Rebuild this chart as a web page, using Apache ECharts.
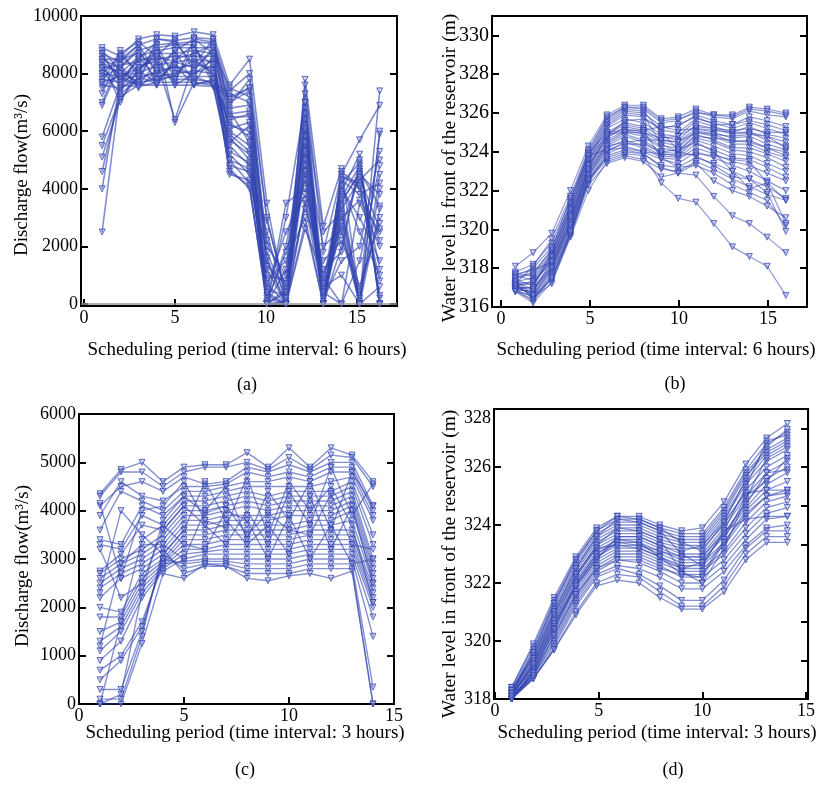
<!DOCTYPE html>
<html>
<head>
<meta charset="utf-8">
<script src="https://cdn.jsdelivr.net/npm/echarts@6/dist/echarts.min.js"></script>
<style>
  html, body { margin: 0; padding: 0; background: #fff; }
  #chart { width: 818px; height: 785px; }
</style>
</head>
<body>
<div id="chart"></div>
<script>
// ---------- (a) discharge flow, 6-hour periods ----------
const periodsA = [1, 2, 3, 4, 5, 6.05, 7.1, 8, 9.1, 10.05, 11.1, 12.15, 13.15, 14.15, 15.15, 16.25];
const flowA = [
  [8900, 8600, 9200, 9350, 9300, 9450, 9350, 7600, 8500, 3500, 100, 7800, 2700, 4700, 200, 7400],
  [8700, 8400, 9000, 9200, 9150, 9250, 9200, 7400, 8000, 2900, 500, 7600, 1800, 4500, 5700, 6900],
  [8500, 8200, 8800, 9000, 9050, 9100, 9050, 7200, 7500, 2000, 1000, 7000, 200, 4200, 4900, 0],
  [8400, 8000, 8600, 8800, 8900, 8900, 8900, 7000, 7400, 1500, 0, 6500, 0, 3800, 0, 5900],
  [8200, 8300, 8400, 8700, 8700, 8800, 8700, 6800, 6900, 500, 300, 6000, 800, 3500, 4600, 3400],
  [8000, 7900, 8200, 8500, 8600, 8600, 8600, 6500, 6500, 0, 2000, 5500, 0, 3000, 3600, 2500],
  [7800, 7700, 8000, 8300, 8400, 8500, 8400, 6200, 6000, 300, 0, 5000, 500, 2500, 0, 4500],
  [7600, 7500, 7800, 8100, 8200, 8300, 8200, 6000, 5500, 1000, 800, 4500, 0, 4000, 3000, 1500],
  [8600, 7800, 7600, 7900, 8000, 8100, 8000, 5800, 5000, 0, 3500, 4000, 1200, 1800, 5000, 0],
  [8800, 8100, 7700, 7800, 7900, 7900, 7900, 5500, 4800, 2500, 0, 3500, 200, 1500, 2000, 5300],
  [5800, 7600, 7550, 7700, 7700, 7700, 7600, 5200, 4500, 800, 1500, 3000, 0, 4500, 4000, 800],
  [5500, 7200, 7600, 7600, 7600, 7600, 7550, 5000, 4200, 0, 500, 6800, 2500, 3200, 500, 3000],
  [5100, 7100, 7900, 8000, 8300, 7600, 7800, 4700, 4000, 200, 0, 5800, 300, 3700, 4800, 200],
  [4600, 7400, 8100, 8700, 8100, 8000, 8300, 4500, 4300, 1800, 200, 4800, 0, 2800, 100, 4000],
  [4000, 7800, 8500, 9100, 6300, 7700, 8600, 4800, 4600, 600, 2500, 3800, 900, 0, 3500, 2000],
  [2500, 7500, 8300, 8400, 6400, 8400, 8100, 5600, 6200, 0, 100, 6200, 0, 4100, 2500, 1000],
  [7000, 8500, 8700, 8200, 8800, 9200, 9100, 6900, 7800, 1200, 0, 2800, 0, 3300, 4300, 5000],
  [7300, 8700, 9100, 8600, 8400, 8200, 8800, 7500, 7200, 0, 1200, 7300, 600, 1000, 0, 6000],
  [8300, 8000, 8000, 9000, 7800, 7800, 7700, 6300, 5800, 400, 0, 6600, 0, 4400, 4200, 300],
  [8100, 7300, 7800, 8900, 9000, 9000, 7600, 6600, 6700, 2200, 600, 3300, 1500, 2200, 600, 2800],
  [7900, 8200, 8900, 7600, 8500, 8700, 9000, 5900, 5300, 0, 0, 5200, 0, 3900, 5200, 0],
  [7700, 7900, 7600, 8400, 7600, 8000, 8500, 5300, 4900, 100, 1800, 4300, 400, 0, 1500, 4800],
  [8500, 8500, 9000, 8000, 8800, 7650, 7700, 7300, 7000, 1600, 0, 6400, 0, 3600, 4500, 3800],
  [8000, 8600, 8100, 7700, 8000, 8500, 8000, 6100, 6300, 0, 400, 5600, 2000, 2600, 0, 0],
  [8700, 7700, 8500, 8500, 7700, 9200, 8700, 5000, 4700, 700, 0, 4600, 0, 4600, 4100, 2200],
  [7500, 8000, 7700, 9200, 9100, 8300, 9200, 6700, 5600, 0, 3000, 7000, 100, 3100, 0, 3300],
  [8200, 7600, 8600, 7800, 8300, 7900, 7650, 7100, 7500, 3000, 200, 5300, 0, 2000, 4700, 1200],
  [6900, 8300, 7500, 8100, 7800, 8800, 8300, 4600, 4100, 0, 0, 3600, 700, 4300, 3800, 4200],
  [8400, 7000, 8200, 8600, 9200, 8100, 8900, 6400, 6600, 1300, 700, 6100, 0, 3400, 0, 600],
  [7700, 8800, 7900, 7650, 8500, 9000, 7800, 5700, 5200, 0, 0, 2600, 1000, 2700, 4400, 2600]
];

// ---------- (b) water level, 6-hour periods ----------
const periodsB = [0.8, 1.8, 2.85, 3.9, 4.9, 5.95, 6.95, 8, 9, 9.95, 10.95, 11.95, 13, 13.95, 14.95, 16];
const levelB = [
  [318.1, 318.8, 319.8, 322.0, 324.3, 325.9, 326.4, 326.4, 325.7, 325.8, 326.2, 325.9, 325.9, 326.3, 326.2, 326.0],
  [317.8, 318.2, 319.3, 321.5, 324.0, 325.7, 326.3, 326.2, 325.5, 325.6, 326.1, 325.8, 325.7, 326.1, 325.9, 325.8],
  [317.6, 318.0, 319.1, 321.2, 323.8, 325.5, 326.1, 326.0, 325.3, 325.3, 325.9, 325.6, 325.4, 325.8, 325.6, 325.3],
  [317.5, 317.8, 318.9, 321.0, 323.6, 325.3, 325.9, 325.8, 325.1, 325.0, 325.7, 325.5, 325.2, 325.5, 325.2, 324.9],
  [317.3, 317.5, 318.7, 320.9, 323.5, 325.2, 325.7, 325.5, 324.9, 324.8, 325.6, 325.3, 325.0, 325.3, 324.9, 324.7],
  [317.2, 317.3, 318.5, 320.8, 323.4, 325.0, 325.5, 325.3, 324.8, 324.6, 325.4, 325.2, 324.9, 325.0, 324.6, 324.3],
  [317.1, 317.2, 318.4, 320.6, 323.3, 324.9, 325.4, 325.2, 324.6, 324.5, 325.2, 325.0, 324.7, 324.8, 324.4, 324.1],
  [317.0, 317.0, 318.2, 320.5, 323.2, 324.8, 325.2, 325.0, 324.5, 324.3, 325.1, 324.9, 324.5, 324.6, 324.2, 324.0],
  [317.7, 317.9, 318.3, 320.4, 323.1, 324.6, 325.1, 324.9, 324.3, 324.2, 325.0, 324.8, 324.4, 324.4, 324.0, 323.7],
  [317.0, 316.9, 318.1, 320.3, 323.0, 324.5, 325.0, 324.8, 324.2, 324.0, 324.9, 324.6, 324.2, 324.2, 323.9, 323.5],
  [316.9, 316.8, 318.0, 320.2, 322.9, 324.4, 324.9, 324.6, 324.0, 323.9, 324.7, 324.5, 324.1, 324.0, 323.7, 323.2],
  [317.0, 316.7, 317.9, 320.1, 322.8, 324.3, 324.8, 324.5, 323.9, 323.8, 324.6, 324.3, 323.9, 323.8, 323.4, 323.0],
  [317.1, 316.6, 317.8, 320.0, 322.7, 324.2, 324.6, 324.3, 323.8, 323.7, 324.4, 324.1, 323.7, 323.6, 323.2, 322.7],
  [316.9, 316.5, 317.7, 319.9, 322.6, 324.0, 324.5, 324.2, 323.7, 323.6, 324.2, 323.9, 323.5, 323.3, 322.9, 322.5],
  [316.8, 316.4, 317.6, 319.8, 322.5, 323.9, 324.3, 324.0, 323.6, 323.4, 324.0, 323.7, 323.3, 323.0, 322.5, 322.0],
  [316.9, 316.3, 317.5, 319.7, 322.4, 323.8, 324.1, 323.9, 323.3, 323.2, 323.7, 323.4, 323.0, 322.6, 322.2, 321.6],
  [316.8, 316.2, 317.3, 319.6, 322.0, 323.5, 323.8, 323.6, 323.1, 323.0, 323.5, 323.1, 322.6, 322.2, 321.8, 321.5],
  [317.2, 316.5, 317.2, 319.7, 322.3, 323.4, 323.7, 323.5, 322.7, 322.9, 323.4, 322.5, 322.0, 321.7, 321.2, 320.6],
  [317.4, 316.6, 317.4, 319.8, 322.5, 323.6, 323.9, 323.8, 322.4, 321.6, 321.4, 320.3, 319.1, 318.6, 318.1, 316.6],
  [317.3, 316.4, 317.5, 319.9, 322.6, 323.7, 324.0, 323.9, 323.2, 322.9, 322.8, 321.7, 320.7, 320.3, 319.6, 318.8],
  [317.6, 317.4, 318.6, 320.7, 323.3, 324.7, 325.3, 325.1, 323.7, 323.2, 323.3, 322.9, 322.3, 321.9, 321.5, 320.2],
  [317.7, 317.6, 318.8, 321.1, 323.7, 325.4, 326.0, 325.9, 324.4, 324.0, 323.8, 323.3, 322.7, 322.6, 321.9, 319.9],
  [317.4, 317.1, 318.6, 321.3, 323.9, 325.6, 326.2, 326.1, 325.0, 324.1, 324.5, 324.0, 323.0, 322.1, 322.4, 320.3],
  [317.2, 318.1, 319.5, 321.7, 324.1, 325.8, 326.3, 326.3, 325.6, 325.7, 326.0, 325.9, 325.8, 326.2, 326.1, 325.9],
  [317.0, 317.0, 318.9, 321.4, 323.9, 325.0, 325.1, 325.1, 325.3, 325.1, 325.2, 325.1, 325.0, 325.0, 324.8, 324.5],
  [316.9, 316.8, 318.4, 321.0, 323.6, 324.9, 325.0, 325.0, 324.7, 324.8, 325.3, 325.2, 325.1, 325.2, 325.0, 325.0],
  [317.5, 317.7, 319.0, 321.6, 323.8, 324.1, 324.2, 324.0, 323.9, 323.8, 323.9, 323.8, 323.6, 323.5, 322.4, 321.5],
  [317.3, 316.9, 318.1, 320.4, 323.0, 324.3, 324.5, 324.6, 324.6, 324.5, 325.0, 324.9, 324.8, 324.9, 324.8, 324.2],
  [317.1, 317.3, 318.3, 320.6, 323.1, 324.8, 325.6, 325.7, 325.2, 325.4, 325.8, 325.4, 325.4, 325.6, 325.4, 325.1],
  [316.8, 316.6, 318.0, 320.2, 322.8, 324.1, 324.4, 324.4, 324.0, 324.1, 324.8, 324.7, 324.6, 324.5, 324.2, 323.8]
];

// ---------- (c) discharge flow, 3-hour periods ----------
const periodsC = [1, 2, 3, 4, 5, 6, 7, 8, 9, 10, 11, 12, 13, 14];
const flowC = [
  [4350, 4850, 5000, 4600, 4900, 4950, 4950, 5200, 4900, 5300, 4900, 5300, 5150, 4600],
  [4300, 4800, 4800, 4500, 4800, 4900, 4900, 5000, 4850, 5100, 4850, 5150, 5100, 4500],
  [4100, 4500, 4600, 4400, 4700, 4550, 4600, 4900, 4800, 4950, 4800, 5000, 5000, 4100],
  [3900, 4600, 4300, 4200, 4500, 4500, 4550, 4800, 4700, 4800, 4700, 4900, 4900, 4000],
  [3600, 4400, 4200, 4000, 4400, 4400, 4500, 4600, 4600, 4700, 4600, 4800, 4800, 3900],
  [3400, 3300, 4100, 3900, 4300, 4300, 4400, 4500, 4500, 4500, 4500, 4600, 4700, 3800],
  [3300, 3200, 3900, 3700, 4200, 4200, 4300, 4400, 4300, 4400, 4400, 4400, 4600, 3500],
  [2750, 3100, 3700, 3600, 4100, 4100, 4200, 4300, 4200, 4300, 4300, 4300, 4500, 3300],
  [2700, 3000, 3200, 3500, 4000, 4000, 4100, 4200, 4100, 4200, 4200, 4200, 4400, 3000],
  [2600, 2900, 3100, 3400, 3900, 3900, 4000, 4100, 4000, 4100, 4100, 4100, 4300, 2900],
  [2500, 2800, 3000, 3300, 3800, 3800, 3900, 3900, 3900, 4000, 4000, 4000, 4200, 2800],
  [2400, 2700, 2900, 3200, 3700, 3700, 3800, 3800, 3800, 3900, 3900, 3900, 4100, 2700],
  [2200, 2600, 2800, 3100, 3600, 3600, 3700, 3700, 3700, 3700, 3800, 3800, 4000, 2600],
  [2000, 1900, 2700, 3000, 3500, 3500, 3600, 3600, 3600, 3600, 3700, 3700, 3800, 2500],
  [1800, 1800, 2600, 2950, 3400, 3400, 3500, 3500, 3500, 3500, 3600, 3600, 3600, 2400],
  [1500, 1700, 2500, 2900, 3300, 3300, 3400, 3400, 3400, 3400, 3500, 3500, 3500, 2300],
  [1300, 1600, 2400, 2850, 3200, 3200, 3300, 3300, 3300, 3300, 3400, 3400, 3400, 2200],
  [1100, 1500, 2300, 2800, 3100, 3150, 3200, 3200, 3200, 3200, 3300, 3300, 3300, 2100],
  [900, 1300, 2200, 2750, 3000, 3100, 3100, 3100, 3100, 3100, 3200, 3200, 3200, 2000],
  [700, 1000, 1700, 2900, 2950, 3000, 3000, 3000, 3000, 3000, 3100, 3100, 3100, 1800],
  [500, 900, 1600, 3000, 2900, 2950, 2950, 2900, 2900, 2900, 3000, 3000, 3000, 1400],
  [300, 300, 1500, 3100, 2800, 2900, 2900, 2800, 2800, 2800, 2900, 2900, 2900, 350],
  [100, 100, 1400, 3200, 2700, 2850, 2850, 2700, 2700, 2700, 2800, 2800, 2800, 0],
  [0, 0, 1250, 2700, 2600, 2900, 2850, 2600, 2550, 2650, 2700, 2600, 2750, 0],
  [0, 200, 2300, 3800, 4300, 3950, 4100, 3500, 3950, 3600, 3500, 4350, 3300, 3200],
  [1200, 2900, 3300, 3300, 3000, 4000, 4500, 3400, 4400, 3800, 4600, 3600, 4800, 4100],
  [3200, 2200, 2500, 3600, 4100, 3700, 3300, 4000, 3300, 4400, 3700, 4900, 3900, 4550],
  [2300, 4000, 3500, 3100, 3600, 4600, 3800, 3300, 3700, 3100, 4300, 3200, 4100, 2500],
  [0, 1700, 3400, 3700, 3300, 3200, 4000, 3800, 3000, 3900, 3000, 3700, 2900, 3000],
  [4150, 2600, 4000, 4100, 4600, 3800, 3650, 4700, 3500, 4600, 4000, 4500, 3700, 2100]
];

// ---------- (d) water level, 3-hour periods ----------
const periodsD = [0.8, 1.85, 2.85, 3.9, 4.9, 5.9, 6.95, 7.95, 9, 10, 11.05, 12.1, 13.1, 14.1];
const levelD = [
  [318.4, 319.9, 321.5, 322.9, 323.9, 324.3, 324.3, 324.0, 323.8, 323.9, 324.8, 326.1, 327.0, 327.5],
  [318.4, 319.8, 321.4, 322.8, 323.8, 324.2, 324.2, 323.9, 323.7, 323.7, 324.6, 325.9, 326.8, 327.2],
  [318.3, 319.7, 321.3, 322.7, 323.7, 324.1, 324.1, 323.8, 323.6, 323.6, 324.5, 325.8, 326.6, 327.0],
  [318.3, 319.6, 321.2, 322.6, 323.6, 324.0, 324.0, 323.7, 323.5, 323.5, 324.4, 325.7, 326.5, 326.9],
  [318.3, 319.5, 321.1, 322.5, 323.5, 323.9, 323.9, 323.6, 323.4, 323.4, 324.3, 325.5, 326.4, 326.8],
  [318.2, 319.5, 321.0, 322.4, 323.4, 323.8, 323.8, 323.5, 323.3, 323.3, 324.2, 325.4, 326.2, 326.6],
  [318.2, 319.4, 320.9, 322.3, 323.3, 323.7, 323.7, 323.4, 323.2, 323.2, 324.0, 325.2, 326.0, 326.4],
  [318.2, 319.3, 320.8, 322.2, 323.2, 323.6, 323.6, 323.3, 323.0, 323.0, 323.9, 325.0, 325.8, 326.2],
  [318.1, 319.2, 320.7, 322.1, 323.1, 323.5, 323.5, 323.2, 322.9, 322.9, 323.7, 324.8, 325.6, 326.0],
  [318.1, 319.2, 320.6, 322.0, 323.0, 323.4, 323.4, 323.1, 322.8, 322.8, 323.6, 324.6, 325.4, 325.8],
  [318.1, 319.1, 320.5, 321.9, 322.9, 323.3, 323.3, 323.0, 322.7, 322.7, 323.4, 324.5, 325.2, 325.5],
  [318.0, 319.0, 320.4, 321.8, 322.8, 323.2, 323.2, 322.9, 322.6, 322.6, 323.3, 324.3, 325.0, 325.2],
  [318.0, 319.0, 320.3, 321.7, 322.7, 323.1, 323.1, 322.8, 322.5, 322.5, 323.1, 324.1, 324.8, 325.0],
  [318.0, 318.9, 320.2, 321.6, 322.6, 323.0, 323.0, 322.7, 322.4, 322.4, 323.0, 323.9, 324.6, 324.8],
  [318.0, 318.9, 320.1, 321.5, 322.5, 322.9, 322.9, 322.6, 322.2, 322.2, 322.8, 323.7, 324.4, 324.6],
  [318.0, 318.8, 320.0, 321.4, 322.4, 322.8, 322.7, 322.4, 322.0, 322.0, 322.6, 323.5, 324.2, 324.3],
  [318.1, 318.8, 319.9, 321.3, 322.3, 322.6, 322.5, 322.2, 321.8, 321.8, 322.4, 323.3, 323.9, 324.0],
  [318.0, 318.7, 319.8, 321.2, 322.2, 322.5, 322.3, 321.9, 321.4, 321.4, 322.1, 323.2, 323.8, 323.8],
  [318.1, 318.7, 319.7, 321.0, 322.0, 322.3, 322.2, 321.7, 321.2, 321.2, 321.9, 323.0, 323.6, 323.6],
  [318.0, 318.7, 319.7, 320.9, 321.9, 322.1, 322.0, 321.5, 321.1, 321.1, 321.7, 322.8, 323.4, 323.4],
  [318.2, 319.6, 321.3, 322.8, 323.8, 324.3, 324.2, 323.9, 323.4, 323.1, 324.1, 325.6, 326.7, 327.3],
  [318.3, 319.4, 321.0, 322.5, 323.6, 324.2, 324.1, 323.8, 323.0, 322.6, 323.8, 325.3, 326.9, 327.1],
  [318.1, 319.3, 320.7, 322.2, 323.3, 323.9, 323.8, 323.5, 322.4, 322.0, 323.2, 324.9, 326.3, 326.7],
  [318.2, 319.0, 320.5, 322.0, 323.0, 323.5, 323.4, 322.9, 322.3, 322.3, 323.5, 325.0, 325.5, 326.3],
  [318.1, 318.9, 320.4, 321.9, 322.8, 323.6, 323.6, 323.3, 323.1, 323.3, 324.1, 325.1, 325.2, 325.2],
  [318.2, 319.1, 320.6, 321.9, 322.9, 323.4, 323.3, 323.1, 322.9, 322.9, 323.8, 324.2, 324.3, 324.3],
  [318.0, 318.8, 320.2, 321.6, 322.5, 322.8, 322.8, 322.5, 322.3, 322.2, 323.4, 324.4, 325.0, 325.1],
  [318.1, 319.2, 320.9, 322.3, 323.2, 323.3, 323.2, 322.9, 322.5, 322.7, 323.7, 324.7, 325.8, 325.9]
];

// Axis titles and panel captions
const xTitle6h = 'Scheduling period (time interval: 6 hours)';
const xTitle3h = 'Scheduling period (time interval: 3 hours)';
const yTitleFlow = 'Discharge flow(m³/s)';
const yTitleLevel = 'Water level in front of the reservoir (m)';
const captions = ['(a)', '(b)', '(c)', '(d)'];

// ---------- styling helpers ----------
const FONT = '"Liberation Serif", "Times New Roman", serif';

const grids = [
  { left: 81,  top: 16,  width: 316, height: 290 },
  { left: 492, top: 16,  width: 315, height: 291 },
  { left: 79,  top: 414, width: 315, height: 290 },
  { left: 494, top: 409, width: 315, height: 290 }
].map(g => Object.assign({ show: true, borderColor: '#000', borderWidth: 2, containLabel: false }, g));

const tickInside = { show: true, inside: true, length: 7, lineStyle: { color: '#000', width: 2 } };
const axisLine = { show: true, onZero: false, lineStyle: { color: '#000', width: 2 } };

function onStep(step) {
  return v => {
    const k = v / step;
    return Math.abs(k - Math.round(k)) < 1e-6 ? String(Math.round(v)) : '';
  };
}

function xAxis(gi, min, max) {
  return {
    type: 'value', gridIndex: gi, position: 'bottom', min, max,
    minInterval: 5, maxInterval: 5,
    axisLine, axisTick: tickInside, splitLine: { show: false },
    axisLabel: { margin: 3, color: '#000', fontFamily: FONT, fontSize: 18, formatter: onStep(5) }
  };
}

function yAxis(gi, min, max, step, fontSize, extra) {
  return {
    type: 'value', gridIndex: gi, position: 'left', min, max,
    minInterval: step, maxInterval: step,
    axisLine, axisTick: tickInside, splitLine: { show: false },
    axisLabel: Object.assign({ margin: 3, color: '#000', fontFamily: FONT, fontSize, formatter: onStep(step) }, extra || {})
  };
}

function rightAxis(gi, min, max, step) {
  return {
    type: 'value', gridIndex: gi, position: 'right', min, max,
    minInterval: step, maxInterval: step,
    axisLine, axisTick: tickInside, splitLine: { show: false },
    axisLabel: { show: false }
  };
}

function runSeries(periods, runs, gi, width, alpha) {
  return runs.map(run => ({
    type: 'line',
    xAxisIndex: gi, yAxisIndex: gi * 2,
    data: run.map((v, i) => [periods[i], v]),
    symbol: 'triangle', symbolRotate: 180, symbolSize: 6,
    lineStyle: { color: 'rgba(52,70,176,' + alpha + ')', width },
    itemStyle: { color: 'rgba(140,152,220,0.4)', borderColor: 'rgba(52,70,176,0.85)', borderWidth: 0.9 },
    emphasis: { disabled: true },
    silent: true, animation: false, z: 3
  }));
}

const series = [].concat(
  runSeries(periodsA, flowA, 0, 1.6, 0.62),
  runSeries(periodsB, levelB, 1, 1.2, 0.55),
  runSeries(periodsC, flowC, 2, 1.4, 0.6),
  runSeries(periodsD, levelD, 3, 1.3, 0.6)
);

// zero-flow reference line in panel (a)
series.push({
  type: 'line', xAxisIndex: 0, yAxisIndex: 0, data: [], silent: true, z: 2,
  markLine: {
    silent: true, symbol: 'none', label: { show: false }, animation: false,
    lineStyle: { color: '#9a9a9a', type: 'solid', width: 1.5 },
    data: [{ yAxis: 0 }]
  }
});

function label(text, x, y, size, rotate) {
  return {
    type: 'text', x, y, rotation: rotate ? Math.PI / 2 : 0, silent: true, z: 10,
    style: { text, font: size + 'px ' + FONT, fill: '#000', align: 'center', verticalAlign: 'middle' }
  };
}

const graphic = [
  label(xTitle6h, 247, 350, 19), label(captions[0], 247, 385, 18),
  label(xTitle6h, 656, 350, 19), label(captions[1], 675, 384, 18),
  label(xTitle3h, 245, 733, 19), label(captions[2], 245, 770, 18),
  label(xTitle3h, 657, 733, 19), label(captions[3], 673, 770, 18),
  label(yTitleFlow, 22, 175, 19, true),
  label(yTitleLevel, 450, 168, 19.5, true),
  label(yTitleFlow, 23, 566, 19, true),
  label(yTitleLevel, 450, 564, 19.5, true)
];

const chart = echarts.init(document.getElementById('chart'), null, { renderer: 'canvas' });
chart.setOption({
  animation: false,
  backgroundColor: '#fff',
  textStyle: { fontFamily: FONT },
  grid: grids,
  xAxis: [
    xAxis(0, -0.16, 17.2),
    xAxis(1, -0.51, 17.19),
    xAxis(2, 0, 15),
    xAxis(3, -0.05, 15.1)
  ],
  yAxis: [
    yAxis(0, -70, 10000, 2000, 18), rightAxis(0, -70, 10000, 2000),
    yAxis(1, 316, 331, 2, 20),      rightAxis(1, 316, 331, 2),
    yAxis(2, 0, 6000, 1000, 18),    rightAxis(2, 0, 6000, 1000),
    yAxis(3, 318, 328, 2, 18, { verticalAlignMaxLabel: 'top' }), rightAxis(3, 0, 7.5, 1)
  ],
  graphic,
  series
});
</script>
</body>
</html>
